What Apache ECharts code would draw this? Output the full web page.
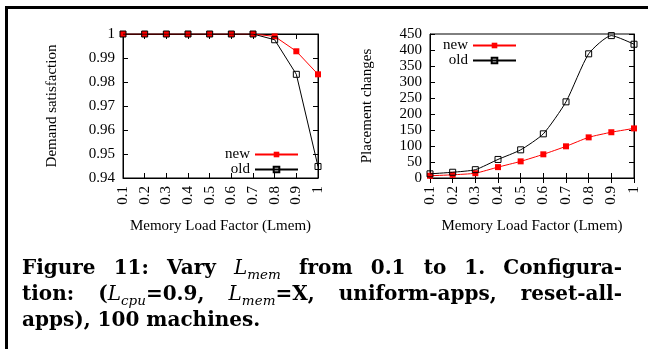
<!DOCTYPE html>
<html><head><meta charset="utf-8">
<script src="https://cdn.jsdelivr.net/npm/echarts@6/dist/echarts.min.js"></script>
<style>html,body{margin:0;padding:0;background:#fff}#c{width:648px;height:349px}</style>
</head><body><div id="c"></div>
<script>
// ---- data ----
const loadFactors = ['0.1','0.2','0.3','0.4','0.5','0.6','0.7','0.8','0.9','1'];
const satNew = [1,1,1,1,1,1,1,0.999,0.9928,0.9832];
const satOld = [1,1,1,1,1,1,1,0.9976,0.9832,0.9448];
const chgNew = [7,10,15,34,52,74,99,127,143,155];
const chgOld = [13,18,26,58,88,138,238,388,445,418];
const seriesNames = ['new','old'];
const xTitle = 'Memory Load Factor (Lmem)';
const yTitleLeft = 'Demand satisfaction';
const yTitleRight = 'Placement changes';
// caption tokens: words made of pieces [style, text]
const captionLines = [
  [[['b','Figure']],[['b','11:']],[['b','Vary']],[['it','L'],['sub','mem']],[['b','from']],[['b','0.1']],[['b','to']],[['b','1.']],[['b','Configura-']]],
  [[['b','tion:']],[['b','('],['it','L'],['sub','cpu'],['b','=0.9,']],[['it','L'],['sub','mem'],['b','=X,']],[['b','uniform-apps,']],[['b','reset-all-']]],
  [[['b','apps),']],[['b','100']],[['b','machines.']]]
];

const serif = 'Liberation Serif';
const fs = 15;
const black = '#000';
const red = '#ff0000';

function xAxes(gi){
  return [{
    gridIndex: gi, type:'category', data: loadFactors, boundaryGap:false,
    axisLine:{lineStyle:{color:black,width:1}},
    axisTick:{inside:true,length:5,interval:0,lineStyle:{color:black}},
    axisLabel:{rotate:90,interval:0,fontFamily:serif,fontSize:fs,color:black,margin:8},
    splitLine:{show:false},
    name:xTitle,nameLocation:'middle',nameGap:41,
    nameTextStyle:{fontFamily:serif,fontSize:fs,color:black}
  },{
    gridIndex: gi, type:'category', data: loadFactors, boundaryGap:false, position:'top',
    axisLine:{lineStyle:{color:black,width:1}},
    axisTick:{inside:true,length:5,interval:0,lineStyle:{color:black}},
    axisLabel:{show:false}, splitLine:{show:false}
  }];
}
function yAxes(gi,min,max,interval,fmt,title,gap){
  return [{
    gridIndex:gi,type:'value',min:min,max:max,interval:interval,
    axisLine:{show:true,lineStyle:{color:black,width:1}},
    axisTick:{show:true,inside:true,length:5,lineStyle:{color:black}},
    axisLabel:{fontFamily:serif,fontSize:fs,color:black,margin:8,formatter:fmt},
    splitLine:{show:false},
    name:title,nameLocation:'middle',nameGap:gap,
    nameTextStyle:{fontFamily:serif,fontSize:fs,color:black}
  },{
    gridIndex:gi,type:'value',min:min,max:max,interval:interval,position:'right',
    axisLine:{show:true,lineStyle:{color:black,width:1}},
    axisTick:{show:true,inside:true,length:5,lineStyle:{color:black}},
    axisLabel:{show:false},splitLine:{show:false}
  }];
}

function newSeries(xi,yi,data,smooth){
  return {name:seriesNames[0],type:'line',xAxisIndex:xi,yAxisIndex:yi,data:data,smooth:smooth,
    symbol:'rect',symbolSize:6,showSymbol:true,
    lineStyle:{color:red,width:1},itemStyle:{color:red,borderWidth:0},z:2};
}
function oldSeries(xi,yi,data,smooth){
  return {name:seriesNames[1],type:'line',xAxisIndex:xi,yAxisIndex:yi,data:data,smooth:smooth,
    symbol:'rect',symbolSize:6,showSymbol:true,
    lineStyle:{color:black,width:1},itemStyle:{color:'rgba(0,0,0,0)',borderColor:black,borderWidth:1},z:3};
}

function legend(right,top){
  return {data:seriesNames,orient:'vertical',right:right,top:top,align:'right',
    itemWidth:43,itemHeight:7,itemGap:0,selectedMode:false,padding:0,
    textStyle:{fontFamily:serif,fontSize:fs,color:black,lineHeight:14.5}};
}

// caption layout
const capFonts = {
  b:'bold 20px "DejaVu Serif"',
  it:'italic 20px "DejaVu Serif"',
  sub:'italic 13.5px "DejaVu Serif"'
};
const mctx = document.createElement('canvas').getContext('2d');
function mw(t,f){mctx.font=f;return mctx.measureText(t).width;}
function buildCaption(){
  const out=[];
  const x0=22, targetW=600, ys=[269,295,321];
  const natSpace = mw(' ',capFonts.b);
  captionLines.forEach((words,li)=>{
    const widths = words.map(w=>w.reduce((s,p)=>s+mw(p[1],capFonts[p[0]]),0));
    const total = widths.reduce((a,b)=>a+b,0);
    const justify = li < captionLines.length-1;
    const gap = justify ? (targetW-total)/(words.length-1) : natSpace;
    let x=x0;
    words.forEach((w,wi)=>{
      let px=x;
      w.forEach(p=>{
        out.push({type:'text',x:px,y:ys[li]+(p[0]==='sub'?6:0),silent:true,
          style:{text:p[1],font:capFonts[p[0]],fill:black,align:'left',verticalAlign:'middle'}});
        px+=mw(p[1],capFonts[p[0]]);
      });
      x+=widths[wi]+gap;
    });
  });
  return out;
}

const chart = echarts.init(document.getElementById('c'));
chart.setOption({
  animation:false,
  backgroundColor:'#fff',
  grid:[
    {left:123,top:34,width:195,height:144,show:true,borderColor:black,borderWidth:1,backgroundColor:'transparent'},
    {left:430,top:34,width:204,height:144,show:true,borderColor:black,borderWidth:1,backgroundColor:'transparent'}
  ],
  xAxis:[...xAxes(0),...xAxes(1)],
  yAxis:[
    ...yAxes(0,0.94,1,0.01,v=>String(parseFloat(v.toFixed(2))),yTitleLeft,63),
    ...yAxes(1,0,450,50,v=>String(Math.round(v)),yTitleRight,55)
  ],
  legend:[legend(349,147),legend(131,38)],
  series:[
    newSeries(0,0,satNew,false),
    oldSeries(0,0,satOld,false),
    newSeries(2,2,chgNew,0.2),
    oldSeries(2,2,chgOld,0.2)
  ],
  graphic:[
    {type:'line',shape:{x1:5,y1:7.5,x2:648,y2:7.5},style:{stroke:black,lineWidth:3},silent:true},
    {type:'line',shape:{x1:6.5,y1:6,x2:6.5,y2:349},style:{stroke:black,lineWidth:3},silent:true},
    ...buildCaption()
  ]
});
</script></body></html>
